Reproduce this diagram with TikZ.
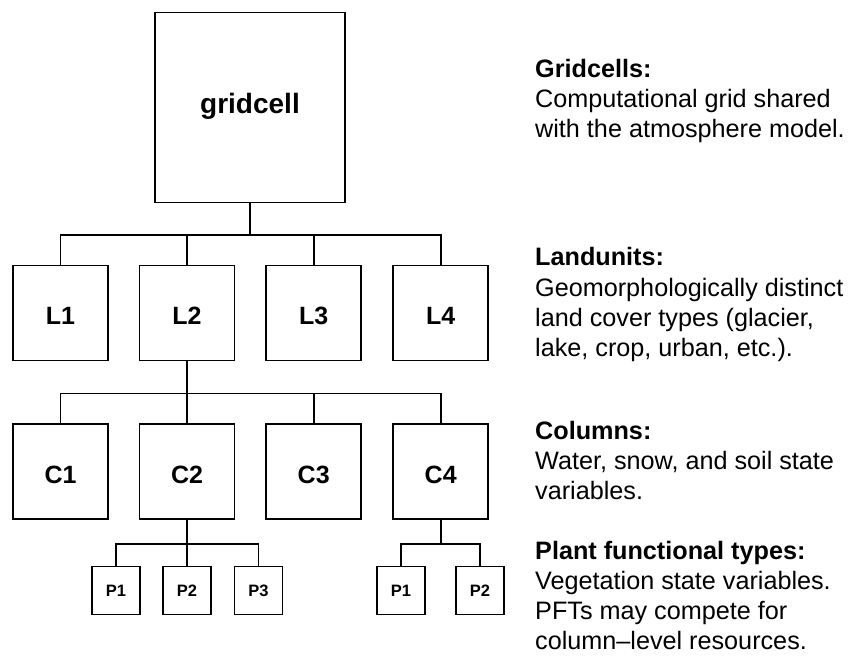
\documentclass[tikz,border=0pt]{standalone}
\usepackage{fontspec}
\setmainfont{Liberation Sans}
\usetikzlibrary{positioning}

\tikzset{
  gridbox/.style={draw, line width=1.6pt, minimum size=190pt, inner sep=0pt, text height=11.6pt, text depth=0pt, font=\bfseries\fontsize{28}{32}\selectfont},
  levelbox/.style={draw, line width=1.6pt, minimum size=95pt, inner sep=0pt, text height=23.4pt, text depth=0pt, font=\bfseries\fontsize{25}{30}\selectfont},
  pftbox/.style={draw, line width=1.6pt, minimum size=48pt, inner sep=0pt, text height=12pt, text depth=0pt, font=\bfseries\fontsize{16.5}{19}\selectfont},
  link/.style={line width=1.6pt},
  legend/.style={anchor=base west, align=left, inner sep=0pt, font=\fontsize{25.2}{30.3}\selectfont}
}

\begin{document}
\begin{tikzpicture}[x=1pt, y=1pt]
\useasboundingbox (0,0) rectangle (849,658);

% the tree
\node[gridbox] (grid) at (250,550.5) {gridcell};
\foreach \i/\x in {1/60.5, 2/187, 3/313.7, 4/440.7} {
  \node[levelbox] (l\i) at (\x,344.8) {L\i};
  \node[levelbox] (c\i) at (\x,186.5) {C\i};
}
\node[pftbox] (pa1) at (116,67.5) {P1};
\node[pftbox] (pa2) at (187,67.5) {P2};
\node[pftbox] (pa3) at (258.5,67.5) {P3};
\node[pftbox] (pb1) at (401,67.5) {P1};
\node[pftbox] (pb2) at (480,67.5) {P2};

\foreach \i in {1,...,4} {
  \draw[link] (grid.south) -- ++(0,-32) -| (l\i.north);
  \draw[link] (l2.south) -- ++(0,-32) -| (c\i.north);
}
\foreach \p in {pa1, pa2, pa3}
  \draw[link] (c2.south) -- ++(0,-24) -| (\p.north);
\foreach \p in {pb1, pb2}
  \draw[link] (c4.south) -- ++(0,-24) -| (\p.north);

% explanations (base = last line)
\node[legend] (txtgrid) at (535,520) {\textbf{Gridcells:}\\Computational grid shared\\with the atmosphere model.};
\node[legend] (txtland) at (535,301.3) {\textbf{Landunits:}\\Geomorphologically distinct\\land cover types (glacier,\\lake, crop, urban, etc.).};
\node[legend] (txtcol) at (535,158) {\textbf{Columns:}\\Water, snow, and soil state\\variables.};
\node[legend] (txtpft) at (535,8) {\textbf{Plant functional types:}\\Vegetation state variables.\\PFTs may compete for\\column--level resources.};
\end{tikzpicture}
\end{document}
